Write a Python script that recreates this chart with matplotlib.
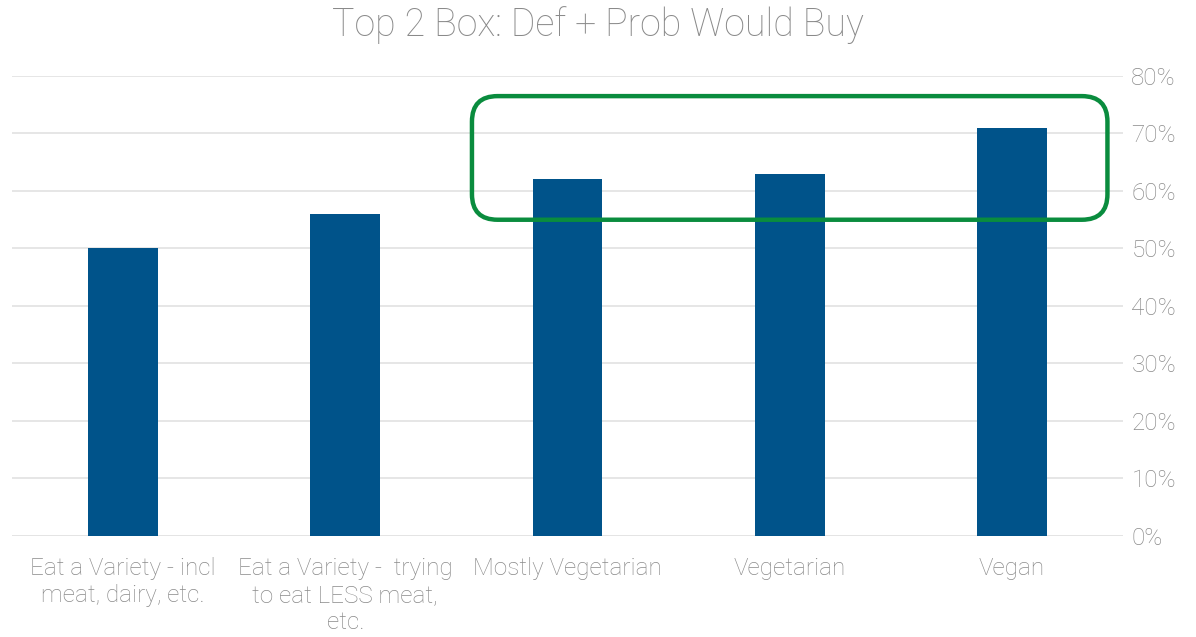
import matplotlib.pyplot as plt
from matplotlib.patches import FancyBboxPatch
from matplotlib.ticker import FuncFormatter

categories = [
    "Eat a Variety - incl\nmeat, dairy, etc.",
    "Eat a Variety -  trying\nto eat LESS meat,\netc.",
    "Mostly Vegetarian",
    "Vegetarian",
    "Vegan",
]
top2_pct = [50, 56, 62, 63, 71]
yticks = [0, 10, 20, 30, 40, 50, 60, 70, 80]

BAR = "#00538A"
GREEN = "#0A8C3E"
GREY = "#8A8A8A"

plt.rcParams["font.family"] = ["Roboto", "DejaVu Sans"]

fig = plt.figure(figsize=(11.96, 6.37), dpi=100)
ax = fig.add_axes([12 / 1196, 0.1586, 1111 / 1196, 0.7221])

x = range(len(categories))
ax.bar(x, top2_pct, width=0.315, color=BAR, zorder=2)

ax.set_xlim(-0.5, 4.5)
ax.set_ylim(0, 80)
ax.set_yticks(yticks)
ax.yaxis.set_major_formatter(FuncFormatter(lambda v, p: f"{v:.0f}%"))
ax.yaxis.tick_right()
ax.set_xticks(list(x))
ax.set_xticklabels(categories, fontsize=17.5, color=GREY, fontweight="light",
                   linespacing=1.22)
for lbl in ax.get_yticklabels():
    lbl.set_fontsize(17.5)
    lbl.set_color(GREY)
    lbl.set_fontweight("light")
ax.tick_params(axis="both", length=0)
ax.tick_params(axis="x", pad=15)
ax.tick_params(axis="y", pad=6)

ax.grid(axis="y", color="#E4E4E4", linewidth=1.3, zorder=0)
ax.set_axisbelow(True)
for s in ax.spines.values():
    s.set_visible(False)
ax.axhline(0, color="#E4E4E4", linewidth=1.3, zorder=1)

# highlight around the three vegetarian groups
px_per_x = 1111 / 5
px_per_y = 460 / 80
box = FancyBboxPatch((1.57, 55.0), 4.43 - 1.57, 76.5 - 55.0,
                     boxstyle="round,pad=0,rounding_size=0.115",
                     mutation_aspect=px_per_x / px_per_y,
                     fill=False, edgecolor=GREEN, linewidth=3.2,
                     transform=ax.transData, zorder=3, clip_on=False)
ax.add_patch(box)

fig.suptitle("Top 2 Box: Def + Prob Would Buy", fontsize=27, color=GREY,
             fontweight="light", y=0.99, va="top")

fig.savefig("out.png", dpi=100)
